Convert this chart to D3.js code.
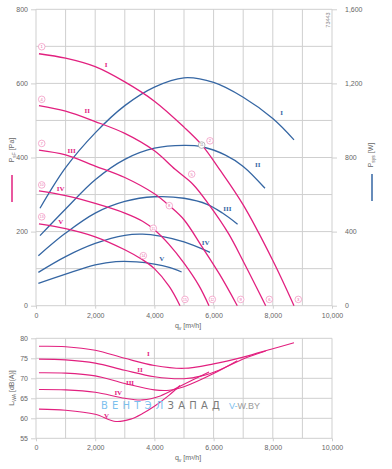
<!DOCTYPE html>
<html><head><meta charset="utf-8">
<script src="https://cdn.jsdelivr.net/npm/d3@7"></script>
<style>
body{margin:0;background:#fff;}
svg{display:block;font-family:"Liberation Sans",Arial,sans-serif;}
</style></head><body>
<svg id="c" width="392" height="469"></svg>
<script>
// ---------- DATA ----------
const qTicks = [0, 2000, 4000, 6000, 8000, 10000];
const paTicks = [0, 200, 400, 600, 800];
const wTicks = [0, 400, 800, 1200, 1600];
const dbTicks = [55, 60, 65, 70, 75, 80];
const speedNames = ["I", "II", "III", "IV", "V"];

// static pressure curves [q m3/h, Pa]
const pressureI   = [[100,680],[1000,668],[2000,645],[3000,604],[4000,552],[5000,482],[5600,434],[6200,368],[7000,272],[8000,122],[8716,0]];
const pressureII  = [[100,540],[1000,525],[2000,497],[3000,465],[4000,418],[4700,368],[5300,328],[5850,272],[6500,195],[7000,120],[7760,0]];
const pressureIII = [[100,420],[1000,407],[2000,377],[3000,346],[4000,302],[4500,270],[5000,232],[5600,160],[6200,85],[6800,0]];
const pressureIV  = [[100,310],[1000,297],[2000,276],[3000,250],[3600,228],[4000,205],[4500,165],[5000,115],[5500,55],[5845,0]];
const pressureV   = [[100,221],[1000,208],[2000,186],[3000,151],[3600,124],[4000,100],[4500,52],[4865,0]];

// power input curves [q m3/h, W]
const powerI   = [[135,526],[1000,745],[2000,933],[3000,1080],[4000,1180],[5000,1230],[6000,1205],[7000,1125],[8000,1010],[8716,895]];
const powerII  = [[135,378],[1000,522],[2000,680],[3000,790],[4000,850],[5000,865],[5600,858],[6400,813],[7000,752],[7736,634]];
const powerIII = [[80,270],[1000,392],[2000,500],[3000,563],[4000,588],[5000,580],[5800,546],[6300,500],[6810,440]];
const powerIV  = [[80,180],[1000,265],[2000,336],[3000,380],[3600,386],[4200,375],[5000,344],[5880,288]];
const powerV   = [[80,120],[1000,170],[2000,220],[2700,238],[3400,237],[4000,225],[4500,207],[4920,182]];

// sound power curves [q m3/h, dB(A)]
const noiseI   = [[100,78.0],[1000,77.9],[2000,77.0],[3000,75.0],[4000,73.2],[5000,72.5],[6000,73.6],[7000,75.3],[8000,77.4],[8716,78.9]];
const noiseII  = [[100,74.8],[1000,74.6],[2000,73.8],[3000,72.0],[4000,70.4],[5000,69.9],[5600,70.6],[6200,72.1],[7000,74.8],[7760,76.8]];
const noiseIII = [[100,71.4],[1000,71.3],[2000,70.6],[3000,68.7],[4000,67.1],[4500,67.0],[5000,67.9],[6000,71.2],[6800,74.4]];
const noiseIV  = [[100,67.2],[1000,67.1],[2000,66.5],[3000,65.0],[3600,64.6],[4200,65.6],[4865,68.0],[5845,71.6]];
const noiseV   = [[100,62.3],[1000,62.0],[2000,61.0],[2700,59.2],[3200,59.8],[3600,61.2],[4000,63.0],[4500,65.8],[4865,68.2]];

// numbered operating points on the pressure curves
const markerNum = [1,2,3,4,5,6,7,8,9,10,11,12,13,14,15];
const markerQ   = [193,5878,8861,193,5260,7882,193,4503,6916,193,3963,5956,193,3625,5034];
const markerPa  = [699,445,17,557,355,17,438,270,17,326,209,17,240,135,17];

// label anchors
const pressureLabelQ = [2365,1733,1206,834,834];
const pressureLabelPa = [650,526,418,317,227];
const powerLabelQ = [8301,7490,6463,5733,4247];
const powerLabelW = [1042,760,526,340,256];
const noiseLabelQ = [3794,3514,3176,2780,2380];
const noiseLabelDb = [76.2,72.3,69.0,66.4,60.6];

// ---------- DRAW ----------
const MAG = "#e2207f", BLUE = "#3566a3", GRID = "#cfcfcf", TXT = "#666";
const svg = d3.select("#c");
const x = d3.scaleLinear([0,10000],[36,332]);
const yP = d3.scaleLinear([0,800],[305.7,9.3]);
const yW = d3.scaleLinear([0,1600],[305.7,9.3]);
const yL = d3.scaleLinear([55,80],[438.3,338.3]);
const fmt = d3.format(",");

function grid(yScale, yStep, y0, y1){
  const g = svg.append("g");
  d3.range(0,10001,1000).forEach(v=>{
    g.append("line").attr("x1",x(v)).attr("x2",x(v)).attr("y1",yScale(y0)).attr("y2",yScale(y1))
     .attr("stroke",GRID).attr("stroke-width",1);
  });
  d3.range(y0,y1+0.001,yStep).forEach(v=>{
    g.append("line").attr("x1",x(0)).attr("x2",x(10000)).attr("y1",yScale(v)).attr("y2",yScale(v))
     .attr("stroke",GRID).attr("stroke-width",1);
  });
}
grid(yP,100,0,800);
grid(yL,5,55,80);

function styleAxis(g){
  g.select(".domain").remove();
  g.selectAll(".tick line").attr("stroke",GRID);
  g.selectAll(".tick text").attr("fill",TXT).attr("font-size","7px").attr("font-family","Liberation Sans, Arial, sans-serif");
}
// top chart axes
svg.append("g").attr("transform",`translate(${x(0)},0)`)
  .call(d3.axisLeft(yP).tickValues(paTicks).tickSize(5).tickPadding(3).tickFormat(fmt)).call(styleAxis);
svg.append("g").attr("transform",`translate(${x(10000)},0)`)
  .call(d3.axisRight(yW).tickValues(wTicks).tickSize(5).tickPadding(8).tickFormat(fmt)).call(styleAxis);
svg.append("g").attr("transform",`translate(0,${yP(0)})`)
  .call(d3.axisBottom(x).tickValues(qTicks).tickSize(3).tickPadding(4).tickFormat(fmt)).call(styleAxis);
// bottom chart axes
svg.append("g").attr("transform",`translate(${x(0)},0)`)
  .call(d3.axisLeft(yL).tickValues(dbTicks).tickSize(5).tickPadding(3)).call(styleAxis);
svg.append("g").attr("transform",`translate(0,${yL(55)})`)
  .call(d3.axisBottom(x).tickValues(qTicks).tickSize(3).tickPadding(4).tickFormat(fmt)).call(styleAxis);

// curves
const lineP = d3.line().x(d=>x(d[0])).y(d=>yP(d[1])).curve(d3.curveCatmullRom.alpha(0.5));
const lineW = d3.line().x(d=>x(d[0])).y(d=>yW(d[1])).curve(d3.curveCatmullRom.alpha(0.5));
const lineL = d3.line().x(d=>x(d[0])).y(d=>yL(d[1])).curve(d3.curveCatmullRom.alpha(0.5));

[powerI,powerII,powerIII,powerIV,powerV].forEach(s=>{
  svg.append("path").attr("d",lineW(s)).attr("fill","none").attr("stroke",BLUE).attr("stroke-width",1.3);
});
[pressureI,pressureII,pressureIII,pressureIV,pressureV].forEach(s=>{
  svg.append("path").attr("d",lineP(s)).attr("fill","none").attr("stroke",MAG).attr("stroke-width",1.3);
});
[noiseI,noiseII,noiseIII,noiseIV,noiseV].forEach(s=>{
  svg.append("path").attr("d",lineL(s)).attr("fill","none").attr("stroke",MAG).attr("stroke-width",1.1);
});

// markers
markerNum.forEach((n,i)=>{
  const cx = x(markerQ[i]), cy = yP(markerPa[i]);
  svg.append("circle").attr("cx",cx).attr("cy",cy).attr("r",3.3).attr("fill","#fff")
    .attr("stroke","#f08cbc").attr("stroke-width",0.7);
  svg.append("text").attr("x",cx).attr("y",cy+1.4).attr("text-anchor","middle")
    .attr("font-size",n>9?"3.4px":"4.2px").attr("fill","#e86aa8").text(n);
});
// gray point marker on power curve II
svg.append("circle").attr("cx",x(5598)).attr("cy",yW(867)).attr("r",3.3).attr("fill","#fff")
  .attr("stroke","#999").attr("stroke-width",0.7);
svg.append("text").attr("x",x(5598)).attr("y",yW(867)+1.4).attr("text-anchor","middle")
  .attr("font-size","3.4px").attr("fill","#888").text("11");

// roman labels
const romanFont = "Liberation Serif, Times New Roman, serif";
speedNames.forEach((nm,i)=>{
  svg.append("text").attr("x",x(pressureLabelQ[i])).attr("y",yP(pressureLabelPa[i])+2.5)
    .attr("text-anchor","middle").attr("font-size","7px").attr("font-weight","bold")
    .attr("font-family",romanFont).attr("fill",MAG).text(nm);
  svg.append("text").attr("x",x(powerLabelQ[i])).attr("y",yW(powerLabelW[i])+2.5)
    .attr("text-anchor","middle").attr("font-size","7px").attr("font-weight","bold")
    .attr("font-family",romanFont).attr("fill",BLUE).text(nm);
  svg.append("text").attr("x",x(noiseLabelQ[i])).attr("y",yL(noiseLabelDb[i])+2.5)
    .attr("text-anchor","middle").attr("font-size","7px").attr("font-weight","bold")
    .attr("font-family",romanFont).attr("fill",MAG).text(nm);
});

// axis titles
function vtext(xp, yp, parts){
  const t = svg.append("text").attr("transform",`translate(${xp},${yp}) rotate(-90)`)
    .attr("text-anchor","middle").attr("font-size","7px").attr("fill",TXT);
  parts.forEach(p=>{
    const s = t.append("tspan").text(p[0]);
    if(p[1]==="sub") s.attr("font-size","5px").attr("dy","1.5");
    if(p[1]==="up") s.attr("dy","-1.5");
  });
  return t;
}
vtext(14,150,[["P"],["sF","sub"],[" [Pa]","up"]]);
svg.append("line").attr("x1",12).attr("x2",12).attr("y1",175).attr("y2",202).attr("stroke",MAG).attr("stroke-width",1.5);
vtext(373,155,[["P"],["sys","sub"],[" [W]","up"]]);
svg.append("line").attr("x1",372).attr("x2",372).attr("y1",174).attr("y2",201).attr("stroke",BLUE).attr("stroke-width",1.5);
vtext(14,388,[["L"],["WA","sub"],[" [dB(A)]","up"]]);

function qlabel(yp){
  const t = svg.append("text").attr("x",188).attr("y",yp).attr("text-anchor","middle")
    .attr("font-size","7px").attr("fill",TXT);
  t.append("tspan").text("q");
  t.append("tspan").attr("font-size","5px").attr("dy","1.5").text("v");
  t.append("tspan").attr("dy","-1.5").text(" [m³/h]");
}
qlabel(328);
qlabel(460);

// figure id
svg.append("text").attr("transform","translate(330,20) rotate(-90)").attr("text-anchor","middle")
  .attr("font-size","5.5px").attr("fill","#888").text("73443");

// watermark
const wm = svg.append("text").attr("x",101).attr("y",409).attr("font-size","10px").attr("letter-spacing","4.2px")
  .attr("font-family","DejaVu Sans, sans-serif");
wm.append("tspan").attr("fill","#7cc0ee").text("ВЕНТЭЛ");
wm.append("tspan").attr("fill","#7a7a7a").text("ЗАПАД");
const wm2 = svg.append("text").attr("x",229).attr("y",409).attr("font-size","9px")
  .attr("font-family","Liberation Sans, Arial, sans-serif");
wm2.append("tspan").attr("fill","#7cc0ee").text("V-");
wm2.append("tspan").attr("fill","#9a9a9a").text("W.BY");
</script></body></html>
